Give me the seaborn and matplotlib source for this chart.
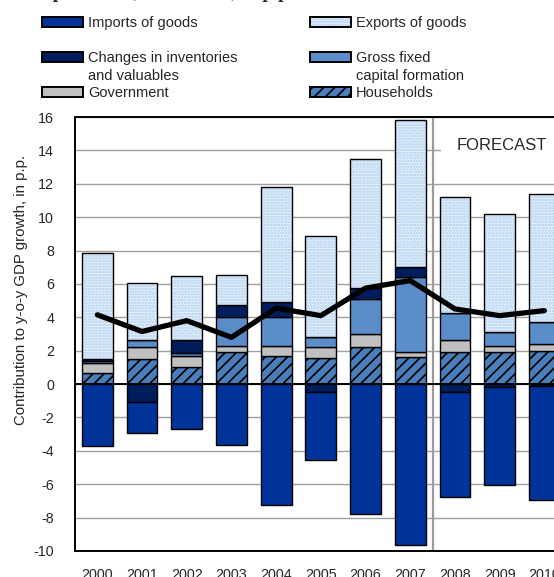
import numpy as np
import pandas as pd
import matplotlib
matplotlib.use("Agg")
import matplotlib.pyplot as plt
import seaborn as sns
from matplotlib.legend_handler import HandlerTuple
from matplotlib.patches import Patch

years = ["2000", "2001", "2002", "2003", "2004", "2005", "2006", "2007", "2008", "2009", "2010"]
households = [0.64, 1.5, 1.0, 1.9, 1.7, 1.56, 2.2, 1.6, 1.9, 1.9, 2.0]
government = [0.64, 0.7, 0.68, 0.4, 0.6, 0.64, 0.8, 0.3, 0.74, 0.4, 0.4]
gfcf = [0.1, 0.44, 0.17, 1.7, 1.7, 0.6, 2.1, 4.5, 1.6, 0.84, 1.3]
inventories = [0.15, -1.1, 0.79, 0.74, 0.94, -0.5, 0.64, 0.6, -0.5, -0.16, -0.1]
exports = [6.33, 3.4, 3.82, 1.82, 6.84, 6.06, 7.76, 8.8, 6.96, 7.04, 7.68]
imports = [-3.72, -1.82, -2.72, -3.62, -7.26, -4.02, -7.76, -9.66, -6.26, -5.9, -6.86]
gdp = [4.15, 3.15, 3.8, 2.8, 4.55, 4.1, 5.75, 6.2, 4.5, 4.1, 4.4]
yticks = list(range(-10, 17, 2))

sns.set_style("white")
plt.rcParams["font.family"] = ["Liberation Sans", "DejaVu Sans"]
plt.rcParams["hatch.linewidth"] = 1.2

W, H = 554, 577
fig = plt.figure(figsize=(W / 100, H / 100), dpi=100)
ax = fig.add_axes([75 / W, 26 / H, 491.7 / W, 434 / H])

df = pd.DataFrame({"year": years, "hh": households, "gov": government, "gfcf": gfcf,
                   "inv": inventories, "exp": exports, "imp": imports, "gdp": gdp})

hh = np.array(households)
gov = np.array(government)
gf = np.array(gfcf)
inv = np.array(inventories)
ex = np.array(exports)
im = np.array(imports)

pos_base = hh + gov + gf
inv_pos = np.where(inv > 0, inv, 0)
inv_neg = np.where(inv < 0, inv, 0)

bw = 0.69
edge = dict(edgecolor="black", linewidth=1.0)
C_IMP = "#003399"
C_INV = "#001E5C"
C_GF = "#5B8DC9"
C_GOV = "#C0C0C0"
C_HH = "#4A7EBB"
C_EXP = "#EAF3FC"
C_EXP_DOT = "#A9CBEF"

def bar(values, bottom, **kw):
    sns.barplot(x=df["year"], y=values, bottom=bottom, ax=ax, width=bw,
                saturation=1, zorder=3, **kw)

bar(hh, np.zeros(11), color=C_HH, hatch="///", **edge)
bar(gov, hh, color=C_GOV, **edge)
bar(gf, hh + gov, color=C_GF, **edge)
bar(inv_pos, pos_base, color=C_INV, **edge)
bar(ex, pos_base + inv_pos, color=C_EXP, hatch="......", edgecolor=C_EXP_DOT, linewidth=0)
bar(ex, pos_base + inv_pos, color="none", edgecolor="black", linewidth=1.0)
bar(inv_neg, np.zeros(11), color=C_INV, **edge)
bar(im, inv_neg, color=C_IMP, **edge)

sns.lineplot(x=np.arange(11), y=df["gdp"], ax=ax, color="black", linewidth=3.8,
             zorder=5, solid_joinstyle="round", solid_capstyle="round")

ax.set_xlim(-0.5, 10.5)
ax.set_ylim(-10, 16)
ax.set_yticks(yticks)
ax.set_yticklabels([str(t) for t in yticks])
ax.yaxis.grid(True, color="#A0A0A0", linewidth=1.0, zorder=0)
ax.set_axisbelow(True)
ax.axhline(0, color="black", linewidth=1.4, zorder=4)
ax.axvline(7.5, color="#9A9A9A", linewidth=1.6, zorder=2)
ax.tick_params(axis="both", length=0, labelsize=10.3)
ax.tick_params(axis="y", pad=15)
ax.tick_params(axis="x", pad=12)
ax.set_xlabel("")
ax.set_ylabel("")
for s in ["left", "bottom", "top"]:
    ax.spines[s].set_color("black")
    ax.spines[s].set_linewidth(1.4)
ax.spines["right"].set_visible(False)

ax.text(9.04, 14.3, "FORECAST", fontsize=12, ha="center", va="center", zorder=2.5,
        bbox=dict(facecolor="white", edgecolor="none", boxstyle="square,pad=0.9"))

fig.text(21 / W, 1 - 290 / H, "Contribution to y-o-y GDP growth, in p.p.", rotation=90,
         ha="center", va="center", fontsize=10.8)

fig.text(30 / W, 1 + 1.5 / H, "Expenditure, 2000–2010, in p.p.", fontsize=14,
         fontweight="bold", family="Liberation Serif", ha="left", va="baseline")

h_imp = Patch(facecolor=C_IMP, edgecolor="black", linewidth=1.4)
h_exp = (Patch(facecolor=C_EXP, edgecolor=C_EXP_DOT, hatch="......", linewidth=0),
         Patch(fill=False, edgecolor="black", linewidth=1.4))
h_inv = Patch(facecolor=C_INV, edgecolor="black", linewidth=1.4)
h_gf = Patch(facecolor=C_GF, edgecolor="black", linewidth=1.4)
h_gov = Patch(facecolor=C_GOV, edgecolor="black", linewidth=1.4)
h_hh = Patch(facecolor=C_HH, edgecolor="black", hatch="///", linewidth=1.4)

LFS = 10.5
entries = [
    (h_imp, "Imports of goods", 42, 23),
    (h_exp, "Exports of goods", 310, 23),
    (h_inv, "Changes in inventories", 42, 58),
    (h_gf, "Gross fixed", 310, 58),
    (h_gov, "Government", 42, 93),
    (h_hh, "Households", 310, 93),
]
for h, lab, xp, yp in entries:
    fig.legend([h], [lab], loc="center left", bbox_to_anchor=(xp / W, 1 - yp / H),
               frameon=False, borderpad=0, borderaxespad=0, handlelength=2.81,
               handleheight=0.65, handletextpad=0.34, fontsize=LFS, labelspacing=0,
               handler_map={tuple: HandlerTuple(ndivide=1, pad=0)})

# second lines of the two-line legend labels
fig.text(88 / W, 1 - 76 / H, "and valuables", fontsize=LFS, ha="left", va="center")
fig.text(356 / W, 1 - 76 / H, "capital formation", fontsize=LFS, ha="left", va="center")

fig.savefig("out.png", dpi=100)
